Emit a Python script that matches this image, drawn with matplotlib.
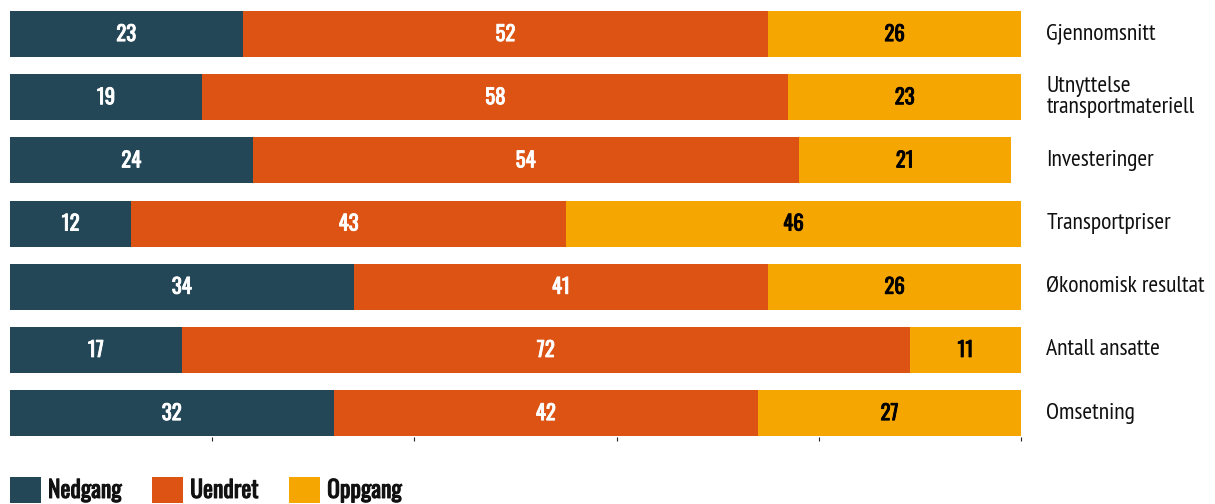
import matplotlib

matplotlib.use("Agg")
import matplotlib.pyplot as plt
import matplotlib.patheffects as pe
import numpy as np
from matplotlib.patches import Patch

categories = [
    "Gjennomsnitt",
    "Utnyttelse\ntransportmateriell",
    "Investeringer",
    "Transportpriser",
    "Økonomisk resultat",
    "Antall ansatte",
    "Omsetning",
]
nedgang = [23, 19, 24, 12, 34, 17, 32]
uendret = [52, 58, 54, 43, 41, 72, 42]
oppgang = [26, 23, 21, 46, 26, 11, 27]
series_names = ["Nedgang", "Uendret", "Oppgang"]

COLORS = ["#234757", "#DC5314", "#F5A600"]
TEXT_COLORS = ["white", "white", "black"]
LABEL_FONT = ["PT Sans Narrow", "Roboto Condensed", "DejaVu Sans"]
BOLD_FONT = ["Oswald", "Antonio", "DejaVu Sans"]


def heavy(color, lw=0.6):
    # Oswald only ships one weight here, so thicken the glyphs with a stroke
    return [pe.withStroke(linewidth=lw, foreground=color)]


plt.rcParams["font.family"] = LABEL_FONT

fig = plt.figure(figsize=(12.15, 5.04), dpi=100)
ax = fig.add_axes([10 / 1215, 1 - 436.5 / 504, 1011 / 1215, 434 / 504])

y = np.arange(len(categories))
left = np.zeros(len(categories))
for vals, color, tcol in zip([nedgang, uendret, oppgang], COLORS, TEXT_COLORS):
    vals = np.asarray(vals, float)
    ax.barh(y, vals, left=left, height=0.73, color=color, edgecolor="none")
    for yi, (l, v) in enumerate(zip(left, vals)):
        # bars run past 100 in some rows; centre the label on the visible part
        right = min(l + v, 100)
        ax.text((l + right) / 2, yi, f"{int(v)}", ha="center", va="center",
                color=tcol, fontsize=15, family=BOLD_FONT,
                path_effects=heavy(tcol))
    left += vals

for yi, name in enumerate(categories):
    ax.text(102.5, yi, name, ha="left", va="center", fontsize=17,
            color="#111111", linespacing=1.0, clip_on=False)

ax.set_xlim(0, 100)
ax.set_ylim(6.37, -0.5)
ax.set_xticks([20, 40, 60, 80, 100])
ax.set_xticklabels([])
ax.set_yticks([])
ax.tick_params(axis="x", length=3, width=0.8, color="#222222")
for s in ax.spines.values():
    s.set_visible(False)

handles = [Patch(facecolor=c, edgecolor="none", label=n)
           for c, n in zip(COLORS, series_names)]
leg = fig.legend(handles=handles, loc="lower left", ncol=3, frameon=False,
                 bbox_to_anchor=(10 / 1215, 1 / 504), borderaxespad=0,
                 borderpad=0, handlelength=1.31, handleheight=1.31,
                 handletextpad=0.3, columnspacing=1.3,
                 prop={"family": BOLD_FONT, "size": 17})
for t in leg.get_texts():
    t.set_color("#111111")
    t.set_path_effects(heavy("#111111", 0.7))

fig.savefig("out.png", dpi=100)
